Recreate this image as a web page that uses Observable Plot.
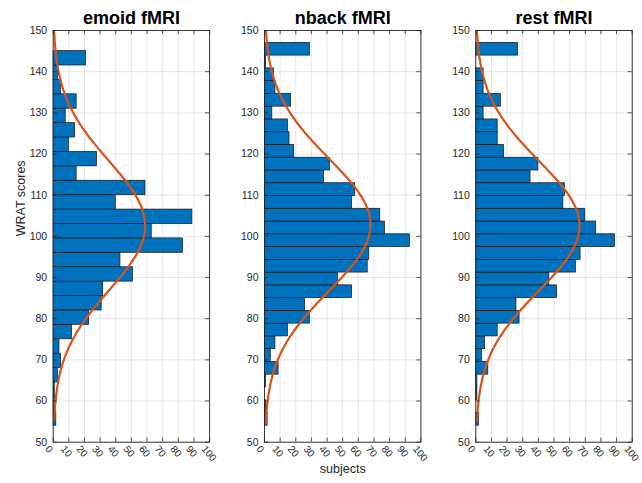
<!DOCTYPE html>
<html>
<head>
<meta charset="utf-8">
<script src="https://cdn.jsdelivr.net/npm/d3@7"></script>
<script src="https://cdn.jsdelivr.net/npm/@observablehq/plot@0.6"></script>
<style>
  html, body { margin: 0; padding: 0; background: #fff; }
  #wrap { position: relative; width: 642px; height: 483px; background: #fff; }
  #wrap svg { position: absolute; left: 0; top: 0; }
</style>
</head>
<body>
<div id="wrap"></div>
<script>
// ---- data ----
const panelTitles = ["emoid fMRI", "nback fMRI", "rest fMRI"];
const yTicks = [50, 60, 70, 80, 90, 100, 110, 120, 130, 140, 150];
const xTicks = [0, 10, 20, 30, 40, 50, 60, 70, 80, 90, 100];

// bin edges (WRAT score), bottom to top
const emoidEdges = [54, 57.5, 61, 64.5, 68, 71.5, 75, 78.5, 82, 85.5, 89, 92.5, 96, 99.5, 103, 106.5, 110, 113.5, 117, 120.5, 124, 127.5, 131, 134.5, 138, 141.5, 145];
const fmriEdges = [54, 57.1, 60.2, 63.3, 66.4, 69.5, 72.6, 75.7, 78.8, 81.9, 85, 88.1, 91.2, 94.3, 97.4, 100.5, 103.6, 106.7, 109.8, 112.9, 116, 119.1, 122.2, 125.3, 128.4, 131.5, 134.6, 137.7, 140.8, 143.9, 147];

// subject counts per bin, bottom to top
const emoidCounts = [2, 1, 1, 3, 5, 4, 12, 23, 31, 32, 51, 43, 83, 63, 89, 40, 59, 15, 28, 10, 14, 8, 15, 5, 3, 21];
const nbackCounts = [2, 1, 0, 1, 9, 4, 7, 15, 29, 26, 56, 47, 66, 67, 93, 77, 74, 56, 58, 38, 42, 19, 16, 15, 5, 17, 7, 6, 1, 29];
const restCounts  = [2, 0, 1, 1, 8, 4, 6, 14, 28, 26, 52, 47, 64, 67, 89, 77, 70, 56, 57, 35, 40, 18, 14, 14, 5, 16, 5, 5, 0, 27];

const panelEdges = [emoidEdges, fmriEdges, fmriEdges];
const panelCounts = [emoidCounts, nbackCounts, restCounts];

// ---- layout ----
const W = 642, H = 483;
const plotW = 156.4;
const panelLeft = [52.7, 264, 475.3];
const mTop = 30, mBottom = 41.3;
const font = "'Liberation Sans', Arial, Helvetica, sans-serif";
const ink = "#262626";

const wrap = document.getElementById("wrap");

panelTitles.forEach((title, p) => {
  const edges = panelEdges[p];
  const counts = panelCounts[p];
  const bins = counts.map((c, i) => ({lo: edges[i], hi: edges[i + 1], count: c}));
  const shown = bins.filter(d => d.count > 0);

  // normal fit (as histfit): mean/sd of the binned data, scaled by n * binwidth
  const n = d3.sum(bins, d => d.count);
  const bw = (edges[edges.length - 1] - edges[0]) / counts.length;
  const mu = d3.sum(bins, d => d.count * (d.lo + d.hi) / 2) / n;
  const sd = Math.sqrt(d3.sum(bins, d => d.count * ((d.lo + d.hi) / 2 - mu) ** 2) / (n - 1));
  const fit = d3.range(-30, 31).map(k => {
    const s = mu + k * 0.1 * sd;
    return {s, v: n * bw * Math.exp(-0.5 * ((s - mu) / sd) ** 2) / (sd * Math.sqrt(2 * Math.PI))};
  });

  const L = panelLeft[p];
  const marks = [
    Plot.gridX(xTicks, {stroke: ink, strokeOpacity: 0.11, strokeWidth: 1}),
    Plot.gridY(yTicks, {stroke: ink, strokeOpacity: 0.11, strokeWidth: 1}),
    Plot.rect(shown, {x1: 0, x2: "count", y1: "lo", y2: "hi", fill: "#0072BD", stroke: "#141414", strokeWidth: 0.7, clip: true}),
    Plot.line(fit, {x: "v", y: "s", stroke: "#D95319", strokeWidth: 2.2, clip: true}),
    // inward ticks on all four sides
    Plot.ruleY(yTicks, {x1: 0, x2: 2.6, stroke: ink, strokeWidth: 0.8}),
    Plot.ruleY(yTicks, {x1: 97.4, x2: 100, stroke: ink, strokeWidth: 0.8}),
    Plot.ruleX(xTicks, {y1: 50, y2: 51, stroke: ink, strokeWidth: 0.8}),
    Plot.ruleX(xTicks, {y1: 149, y2: 150, stroke: ink, strokeWidth: 0.8}),
    Plot.frame({stroke: ink, strokeWidth: 0.9}),
    Plot.axisY(yTicks, {tickSize: 0, tickPadding: 6, label: null, fill: ink, fontSize: 10.5}),
    Plot.text(xTicks, {x: d => d, frameAnchor: "bottom", text: d => String(d), rotate: 50, textAnchor: "start", dx: -8.5, dy: 7, fill: ink, fontSize: 10}),
    Plot.text([title], {frameAnchor: "top", dy: -7, lineAnchor: "bottom", fontSize: 18, fontWeight: "bold", fill: "#000"})
  ];
  if (p === 0) {
    marks.push(Plot.text(["WRAT scores"], {frameAnchor: "left", dx: -32, rotate: -90, fontSize: 12.5, fill: ink}));
  }
  if (p === 1) {
    marks.push(Plot.text(["subjects"], {frameAnchor: "bottom", dy: 31, fontSize: 12.5, fill: ink}));
  }

  const chart = Plot.plot({
    width: W,
    height: H,
    marginTop: mTop,
    marginBottom: mBottom,
    marginLeft: L,
    marginRight: W - L - plotW,
    style: {fontFamily: font, fontSize: "10px", color: ink, background: "transparent", overflow: "visible"},
    x: {domain: [0, 100], axis: null},
    y: {domain: [50, 150]},
    marks
  });
  wrap.appendChild(chart);
});
</script>
</body>
</html>
